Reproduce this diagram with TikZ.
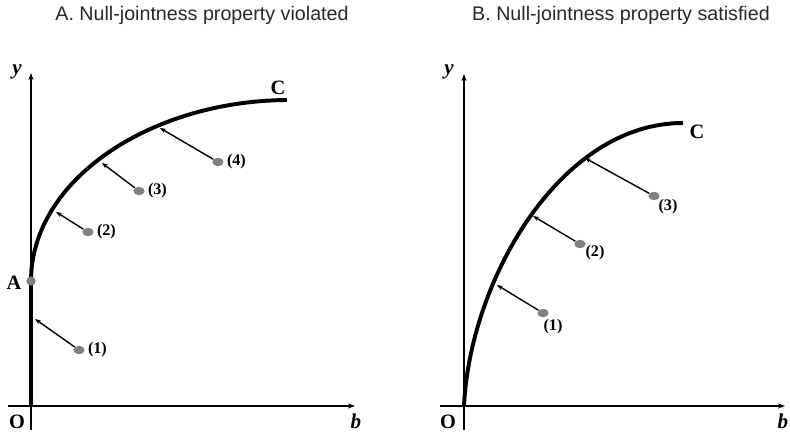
\documentclass[tikz,border=0pt]{standalone}
\usepackage{fontspec}
\setmainfont{Liberation Serif}
\newfontfamily\titlefont{Liberation Sans}
\usetikzlibrary{arrows.meta,shapes.geometric,positioning}
\definecolor{dotgray}{RGB}{128,128,128}
\definecolor{titlegray}{RGB}{40,40,40}

\tikzset{
  axis/.style={line width=1pt,-{Stealth[length=5pt,width=3.6pt]}},
  frontier/.style={line width=2.8pt},
  move/.style={line width=1pt,-{Stealth[length=4.2pt,width=3.2pt]}},
  dot/.style={ellipse,fill=dotgray,inner sep=0pt,minimum width=8pt,minimum height=6pt},
  num/.style={font=\fontsize{11.5}{13}\selectfont\bfseries,inner sep=0pt},
  lbl/.style={font=\fontsize{14.5}{16}\selectfont\bfseries,inner sep=0pt},
  varlbl/.style={lbl,font=\fontsize{15}{17}\selectfont\bfseries\itshape},
  title/.style={font=\titlefont\fontsize{14}{16}\selectfont,text=titlegray,inner sep=0pt}
}

\begin{document}
\begin{tikzpicture}[x=0.025cm,y=-0.025cm]
\useasboundingbox (0,0) rectangle (790,434);

\node[title] (ttlA) at (202,15) {A. Null-jointness property violated};
\node[title] (ttlB) at (621,15) {B. Null-jointness property satisfied};

% panel A
\coordinate (oA) at (31,406);
\coordinate (aA) at (31,281);
\coordinate (cA) at (287,100);
\draw[axis] (31,430) -- (31,73);
\draw[axis] (8,406) -- (355,406);
\draw[frontier] (oA) -- (aA) .. controls (31,180) and (150,101) .. (cA);
\node[dot,circle,minimum size=6.6pt] (dA) at (aA) {};
\node[lbl] (labA) at (14,283) {A};
\node[lbl] (labCA) at (278,88) {C};
\node[lbl] (labOA) at (17,422) {O};
\node[varlbl] (labyA) at (17,72) {y};
\node[varlbl] (labbA) at (356,421) {b};
\foreach \dx/\dy/\tx/\ty/\n in {79/350/35/319/1, 88/232/56/212/2, 139/191/102/163/3, 218/162/160/128/4}{
  \node[dot] (pA\n) at (\dx,\dy) {};
  \coordinate (tA\n) at (\tx,\ty);
  \draw[move] (pA\n) -- (tA\n);
  \node[num,right=2pt of pA\n] (nA\n) {(\n)};
}

% panel B
\coordinate (oB) at (464,406);
\coordinate (cB) at (683,123);
\draw[axis] (464,430) -- (464,74);
\draw[axis] (440,406) -- (785,406);
\draw[frontier] (oB) .. controls (470,280) and (560,123) .. (cB);
\node[lbl] (labCB) at (697,132) {C};
\node[lbl] (labOB) at (448,422) {O};
\node[varlbl] (labyB) at (449,72) {y};
\node[varlbl] (labbB) at (783,421) {b};
\foreach \dx/\dy/\tx/\ty/\lx/\ly/\n in {543/313/497/285/553/327/1, 580/244/533/216/595/253/2, 654/196/585/158/668/207/3}{
  \node[dot] (pB\n) at (\dx,\dy) {};
  \coordinate (tB\n) at (\tx,\ty);
  \draw[move] (pB\n) -- (tB\n);
  \node[num] (nB\n) at (\lx,\ly) {(\n)};
}
\end{tikzpicture}
\end{document}
